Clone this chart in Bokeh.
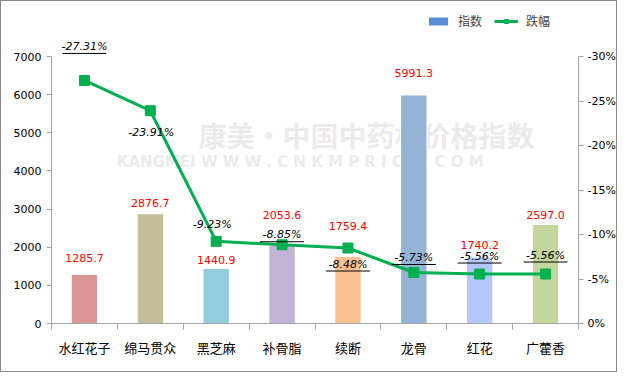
from bokeh.plotting import figure
from bokeh.models import (Range1d, LinearAxis, FixedTicker, CustomJSTickFormatter,
                          Legend, LegendItem, ColumnDataSource)
from bokeh.core.properties import value
from bokeh.embed import file_html
from bokeh.resources import INLINE

# ---------------- data ----------------
categories = ["水红花子", "绵马贯众", "黑芝麻", "补骨脂", "续断", "龙骨", "红花", "广藿香"]
index_values = [1285.7, 2876.7, 1440.9, 2053.6, 1759.4, 5991.3, 1740.2, 2597.0]
change_pct = [-27.31, -23.91, -9.23, -8.85, -8.48, -5.73, -5.56, -5.56]
left_ticks = [0, 1000, 2000, 3000, 4000, 5000, 6000, 7000]
right_ticks = [0, 5, 10, 15, 20, 25, 30]
LEFT_MAX = 7000
RIGHT_MAX = 30

# ---------------- styles / label placement ----------------
bar_colors = ["#DA9694", "#C4BD97", "#93CDDD", "#C2B4D6", "#FAC090", "#95B3D7", "#B4C7FF", "#C3D69B"]
bar_label_dy = [12, 7, 5, 26, 26, 18, 8, 5]          # px above bar top
pct_label_dx = [0, 1, -4, 0, 0, 0, 0, 0]              # px
pct_label_dy = [-34, 22, -17, -10, 16, -15, -18, -19]  # px (positive = below point)
pct_underline = [True, False, False, True, True, True, True, True]

W, H = 617, 372
BL, BR, BT, BB = 50, 40, 0, 50
PLOT_TOP = 55          # pixel row of the top tick (7000 / 30%)
frame_w = W - BL - BR
frame_h = H - BT - BB
axis_h = frame_h - (PLOT_TOP - BT)   # pixels between 0 and top tick

n = len(categories)
xs = list(range(n))
abs_pct = [abs(v) for v in change_pct]

y_top = LEFT_MAX * frame_h / axis_h
pct_top = RIGHT_MAX * frame_h / axis_h

p = figure(width=W, height=H, output_backend="svg", toolbar_location=None,
           x_range=Range1d(-0.5, n - 0.5), y_range=Range1d(0, y_top),
           min_border_left=BL, min_border_right=BR, min_border_top=BT, min_border_bottom=BB,
           background_fill_color="white", border_fill_color="white")
p.styles = {"border": "1px solid #8a8a8a"}
p.outline_line_color = None
p.xgrid.visible = False
p.ygrid.visible = False
p.extra_y_ranges = {"pct": Range1d(0, pct_top)}

AXIS_COLOR = "#a6a6a6"
NUM_FONT = "DejaVu Sans"

# left axis
ya = p.yaxis[0]
ya.ticker = FixedTicker(ticks=left_ticks)
ya.bounds = (0, LEFT_MAX)
ya.axis_line_color = AXIS_COLOR
ya.major_tick_line_color = AXIS_COLOR
ya.major_tick_in = 0
ya.major_tick_out = 5
ya.minor_tick_line_color = None
ya.major_label_text_font = NUM_FONT
ya.major_label_text_font_size = "11px"
ya.major_label_text_color = "black"
ya.major_label_standoff = 5

# right axis
ra = LinearAxis(y_range_name="pct", ticker=FixedTicker(ticks=right_ticks),
                formatter=CustomJSTickFormatter(code="return tick == 0 ? '0%' : '-' + tick + '%';"))
ra.bounds = (0, RIGHT_MAX)
ra.axis_line_color = AXIS_COLOR
ra.major_tick_line_color = AXIS_COLOR
ra.major_tick_in = 0
ra.major_tick_out = 5
ra.minor_tick_line_color = None
ra.major_label_text_font = NUM_FONT
ra.major_label_text_font_size = "11px"
ra.major_label_text_color = "black"
ra.major_label_standoff = 4
p.add_layout(ra, "right")

# bottom axis: labels at centres, ticks at category boundaries
xa = p.xaxis[0]
xa.ticker = FixedTicker(ticks=xs, minor_ticks=[i - 0.5 for i in range(n + 1)])
xa.major_label_overrides = {i: c for i, c in enumerate(categories)}
xa.axis_line_color = AXIS_COLOR
xa.major_tick_line_color = None
xa.minor_tick_line_color = AXIS_COLOR
xa.minor_tick_in = 0
xa.minor_tick_out = 6
xa.major_label_text_font = "Noto Sans CJK SC"
xa.major_label_text_font_size = "13px"
xa.major_label_text_color = "black"
xa.major_label_standoff = 8

# watermark (decoration)
p.text(x=[4.28], y=[4955], text=["康美·中国中药材价格指数"], text_font=value("Noto Sans CJK SC"),
       text_font_size="28px", text_font_style="bold", text_color="#ebebeb",
       text_align="center", text_baseline="middle")
p.text(x=[3.95], y=[4247],
       text=["KANGMEI  W  W  W  .  C  N  K  M  P  R  I  C  E  .  C  O  M"],
       text_font=value("DejaVu Sans"), text_font_size="15px", text_font_style="bold",
       text_color="#ebebeb", text_align="center", text_baseline="middle")

# bars
bar_src = ColumnDataSource(dict(x=xs, top=index_values, color=bar_colors,
                                label=[f"{v:.1f}" for v in index_values],
                                dy=[-d for d in bar_label_dy]))
p.vbar(x="x", top="top", width=0.4, fill_color="color", line_color="white", line_width=1,
       source=bar_src)
p.text(x="x", y="top", text="label", y_offset="dy", source=bar_src,
       text_font=value(NUM_FONT), text_font_size="11px", text_color="#ff0000",
       text_align="center", text_baseline="bottom")

# legend proxy renderer for the bar series (zero height, so nothing is drawn)
legend_bar = p.vbar(x=[0], top=[0], bottom=[0], width=0.4, fill_color="#558ED5", line_color=None)

# line
line_r = p.line(xs, abs_pct, y_range_name="pct", line_color="#00B050", line_width=3)
mark_r = p.scatter(xs, abs_pct, y_range_name="pct", marker="square", size=10,
                   fill_color="#00B050", line_color="#00B050")

pct_src = ColumnDataSource(dict(x=xs, y=abs_pct, label=[f"{v:.2f}%" for v in change_pct],
                                dx=pct_label_dx, dy=pct_label_dy))
p.text(x="x", y="y", text="label", x_offset="dx", y_offset="dy", source=pct_src,
       y_range_name="pct", text_font=value(NUM_FONT), text_font_size="11px",
       text_font_style="italic", text_color="black", text_align="center", text_baseline="middle")

# underlines beneath the percent labels
px_per_cat = frame_w / n
px_per_pct = axis_h / RIGHT_MAX
ux0, ux1, uy = [], [], []
for i, (v, dx, dy, u) in enumerate(zip(abs_pct, pct_label_dx, pct_label_dy, pct_underline)):
    if not u:
        continue
    cx = i + dx / px_per_cat
    ux0.append(cx - 22 / px_per_cat)
    ux1.append(cx + 22 / px_per_cat)
    uy.append(v - (dy + 7) / px_per_pct)
p.segment(x0=ux0, y0=uy, x1=ux1, y1=uy, y_range_name="pct", line_color="black", line_width=1)

legend = Legend(items=[LegendItem(label="指数", renderers=[legend_bar]),
                       LegendItem(label="跌幅", renderers=[line_r, mark_r])],
                orientation="horizontal", location=(375, frame_h - 28),
                border_line_color=None, background_fill_alpha=0,
                label_text_font="Noto Sans CJK SC", label_text_font_size="12px",
                glyph_width=24, glyph_height=10, label_height=16, label_standoff=8,
                spacing=12, padding=0, margin=0)
p.add_layout(legend, "center")

open("out.html", "w").write(file_html(p, INLINE))
